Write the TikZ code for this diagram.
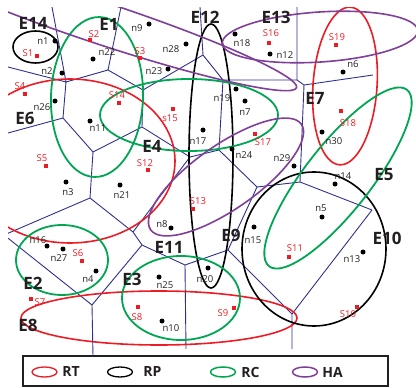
\documentclass[tikz,border=0pt]{standalone}
\usepackage{fontspec}
\setmainfont{Open Sans}
\definecolor{vblue}{RGB}{46,49,146}
\definecolor{rtred}{RGB}{237,28,36}
\definecolor{rcgreen}{RGB}{0,166,81}
\definecolor{hapurple}{RGB}{127,63,152}
\definecolor{txt}{RGB}{35,31,32}
\begin{document}
\begin{tikzpicture}[x=1pt,y=-1pt,
  vor/.style={draw=vblue, line width=0.9pt},
  rt/.style={draw=rtred, line width=1.6pt},
  rp/.style={draw=black, line width=1.6pt},
  rc/.style={draw=rcgreen, line width=1.8pt},
  ha/.style={draw=hapurple, line width=1.6pt},
  dot/.style={circle, fill=black, inner sep=0pt, minimum size=5pt},
  sq/.style={rectangle, fill=rtred, inner sep=0pt, minimum size=3.2pt},
  lab/.style={font=\fontsize{9.5}{10}\selectfont, text=txt, inner sep=0pt},
  slab/.style={font=\fontsize{9.5}{10}\selectfont, text=rtred, inner sep=0pt},
  elab/.style={font=\bfseries\fontsize{17}{18}\selectfont, text=txt, inner sep=0pt},
  leglab/.style={font=\bfseries\fontsize{14}{15}\selectfont, text=txt, inner sep=0pt}]
\useasboundingbox (0,0) rectangle (416,388);

% Voronoi vertices
\coordinate (A) at (66,82);   \coordinate (B) at (108,70);
\coordinate (C) at (143,90);  \coordinate (D) at (203,55);
\coordinate (E) at (142,127); \coordinate (F) at (63,118);
\coordinate (G) at (93,152);  \coordinate (H) at (90,198);
\coordinate (I) at (133,232); \coordinate (J) at (142,245);
\coordinate (K) at (92,305);  \coordinate (L) at (185,265);
\coordinate (N) at (228,250); \coordinate (S) at (292,314);
\coordinate (R) at (372,210); \coordinate (Q) at (300,182);
\coordinate (P) at (257,187); \coordinate (V) at (219,150);
\coordinate (U) at (190,157); \coordinate (W) at (223,80);
\coordinate (X) at (297,80);  \coordinate (Y) at (304,85);
% free ends
\coordinate (tA) at (52,7);   \coordinate (lA) at (8,67);
\coordinate (tB) at (121,7);  \coordinate (tD) at (200,7);
\coordinate (tX) at (297,7);  \coordinate (eY) at (373,75);
\coordinate (lF) at (8,133);  \coordinate (lHK) at (4,235);
\coordinate (bK) at (93,356); \coordinate (bL) at (186,349);
\coordinate (bS) at (292,349);

\begin{scope}
\clip (8,7) rectangle (416,349);
\draw[vor] (tA)--(A) (lA)--(A) (A)--(B) (A)--(F) (tB)--(B) (B)--(C)
  (C)--(D) (C)--(E) (tD)--(D) (D)--(W) (W)--(X) (W)--(V) (tX)--(X)
  (X)--(Y) (Y)--(eY) (Y)--(Q) (F)--(lF) (F)--(G) (G)--(E) (G)--(H)
  (E)--(U) (U)--(V) (U)--(I) (H)--(lHK) (H)--(I) (I)--(J) (J)--(K)
  (J)--(L) (K)--(lHK) (L)--(N) (L)--(bL) (N)--(P) (N)--(S) (S)--(bS)
  (S)--(R) (R)--(Q) (Q)--(P) (P)--(V);

% RT (red)
\draw[rt] (70,161) ellipse [x radius=105pt, y radius=82pt];
\draw[rt, rotate around={-4:(345,86)}] (345,86) ellipse [x radius=32pt, y radius=79pt];
\draw[rt] (159,318) ellipse [x radius=138pt, y radius=27pt];
% RP (black)
\draw[rp] (35.5,47) ellipse [x radius=22.5pt, y radius=16pt];
\draw[rp] (211,156) ellipse [x radius=22pt, y radius=132pt];
\draw[rp] (314,249) ellipse [x radius=72pt, y radius=77pt];
% RC (green)
\draw[rc, rotate around={-2:(97,97)}] (97,97) ellipse [x radius=46pt, y radius=80pt];
\draw[rc] (189,115) ellipse [x radius=89pt, y radius=36pt];
\draw[rc, rotate around={52:(338,178)}] (338,178) ellipse [x radius=112pt, y radius=33pt];
\draw[rc] (62,260) ellipse [x radius=46pt, y radius=35pt];
\draw[rc] (181,298) ellipse [x radius=59pt, y radius=42pt];
% HA (purple)
\draw[ha, rotate around={-18.3:(101,23)}] (101,23) ellipse [x radius=206pt, y radius=21pt];
\draw[ha, rotate around={3.8:(320,37)}] (320,37) ellipse [x radius=98pt, y radius=25pt];
\draw[ha, rotate around={35:(226,177)}] (226,177) ellipse [x radius=92pt, y radius=32pt];
\end{scope}
\draw[vor] (K)--(bK);

% black dots and labels
\foreach \nm/\px/\py/\lx/\ly in {
 n1/55/41/43/41, n2/62/73/47/71, n22/93/59/107/52, n9/149/24/137/28,
 n28/186/44/171/49, n23/168/69/154/71, n26/55/101/42/107, n11/90/121/98/128,
 n17/203/130/198/141, n18/235/34/242/43, n12/270/54/285/55, n6/343/72/353/64,
 n19/236/89/222/98, n7/245/101/245/112, n24/232/149/244/155, n30/322/132/334/141,
 n29/294/166/282/158, n14/335/184/343/176, n5/322/217/321/208, n13/363/252/352/259,
 n15/254/227/253/240, n20/208/268/205/279, n3/66/182/68/192, n21/120/185/122/195,
 n8/171/228/162/224, n16/47/246/38/240, n27/63/249/59/258, n4/96/271/88/279,
 n25/159/277/165/285, n10/162/321/171/328} {
  \node[dot] (d\nm) at (\px,\py) {};
  \node[lab] (l\nm) at (\lx,\ly) {\nm};
}
% red squares and labels
\foreach \nm/\px/\py/\lx/\ly in {
 S1/37/56/28/53, S2/90/40/94/34, S3/140/58/140/51, S4/25/94/20/86,
 S5/46/166/42/158, S6/82/261/78/253, S7/31/299/40/302, S8/138/307/137/317,
 S9/234/308/223/313, S10/357/307/348/314, S11/289/257/295/248, S12/148/170/145/163,
 S13/193/209/198/201, S14/119/103/117/95, s15/173/109/170/118, S16/269/43/271/33,
 S17/255/134/263/142, S18/341/111/348/123, S19/336/45/337/37} {
  \node[sq] (q\nm) at (\px,\py) {};
  \node[slab] (m\nm) at (\lx,\ly) {\nm};
}
% E labels
\foreach \nm/\lx/\ly in {
 E14/33/23, E1/109/24, E12/205/17, E13/276/17, E6/25/118, E4/152/146,
 E7/315/98, E5/384/175, E10/387/238, E9/231/235, E11/169/247, E2/33/283,
 E3/132/279, E8/28/325} {
  \node[elab] (\nm) at (\lx,\ly) {\nm};
}

% legend
\draw[draw=txt, line width=1.2pt, fill=white] (23,356) rectangle (388,386);
\draw[draw=rtred, line width=1.3pt] (44.5,372) ellipse [x radius=12.5pt, y radius=5pt];
\draw[draw=black, line width=1.3pt] (120,372) ellipse [x radius=12.5pt, y radius=5pt];
\draw[draw=rcgreen, line width=1.5pt] (223,372) ellipse [x radius=12.5pt, y radius=5pt];
\draw[draw=hapurple, line width=1.5pt] (305,372) ellipse [x radius=12.5pt, y radius=5pt];
\node[leglab] (kRT) at (71,372) {RT};
\node[leglab] (kRP) at (152.5,372) {RP};
\node[leglab] (kRC) at (250.5,372) {RC};
\node[leglab] (kHA) at (332.5,372) {HA};
\end{tikzpicture}
\end{document}
